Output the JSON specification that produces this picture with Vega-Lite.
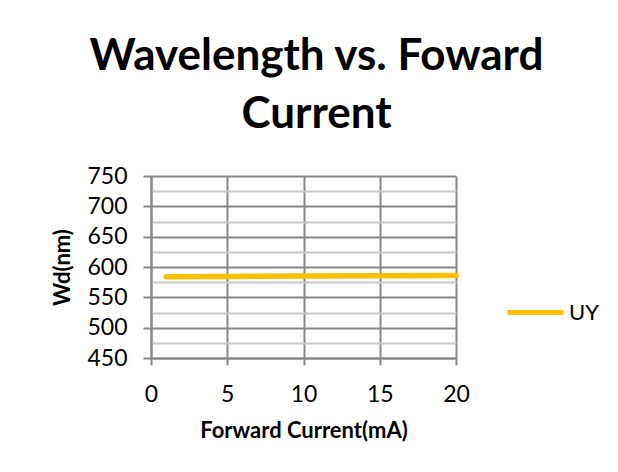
{
  "$schema": "https://vega.github.io/schema/vega-lite/v6.json",
  "width": 305,
  "height": 182,
  "autosize": {"type": "none"},
  "padding": {"left": 151, "top": 176, "right": 162, "bottom": 114},
  "background": "white",
  "config": {"view": {"stroke": null}, "font": "Lato"},
  "title": {
    "text": ["Wavelength vs. Foward", "Current"],
    "font": "Lato",
    "fontSize": 44,
    "fontWeight": "bold",
    "color": "black",
    "lineHeight": 58,
    "anchor": "middle",
    "dx": 13,
    "offset": 28
  },
  "data": {
    "values": [
      {"current": 1, "wd": 584, "series": "UY"},
      {"current": 5, "wd": 584.5, "series": "UY"},
      {"current": 10, "wd": 585, "series": "UY"},
      {"current": 15, "wd": 585.5, "series": "UY"},
      {"current": 20, "wd": 586, "series": "UY"}
    ]
  },
  "mark": {"type": "line", "strokeWidth": 5.5, "strokeCap": "round"},
  "encoding": {
    "x": {
      "field": "current",
      "type": "quantitative",
      "scale": {"domain": [0, 20], "nice": false},
      "axis": {
        "values": [0, 5, 10, 15, 20],
        "grid": true,
        "gridColor": "#888888",
        "gridWidth": 2,
        "domainColor": "#888888",
        "domainWidth": 2,
        "tickColor": "#888888",
        "tickWidth": 2,
        "tickSize": 7,
        "labelFont": "Lato",
        "labelFontSize": 23,
        "labelColor": "black",
        "labelPadding": 18,
        "labelFlush": false,
        "labelOverlap": false,
        "title": "Forward Current(mA)",
        "titleFont": "Lato",
        "titleFontSize": 22,
        "titleFontWeight": "bold",
        "titleColor": "black",
        "titlePadding": 14
      }
    },
    "y": {
      "field": "wd",
      "type": "quantitative",
      "scale": {"domain": [450, 750], "nice": false, "zero": false},
      "axis": {
        "values": [450, 475, 500, 525, 550, 575, 600, 625, 650, 675, 700, 725, 750],
        "grid": true,
        "gridColor": {"condition": {"test": "datum.value % 50 === 0", "value": "#888888"}, "value": "#c8c8c8"},
        "gridWidth": 2,
        "domainColor": "#888888",
        "domainWidth": 2,
        "tickColor": "#888888",
        "tickOpacity": {"condition": {"test": "datum.value % 50 === 0", "value": 1}, "value": 0},
        "tickWidth": 2,
        "tickSize": 8,
        "labelExpr": "datum.value % 50 === 0 ? datum.label : ''",
        "labelFont": "Lato",
        "labelFontSize": 23,
        "labelColor": "black",
        "labelPadding": 16,
        "labelOverlap": false,
        "title": "Wd(nm)",
        "titleFont": "Lato",
        "titleFontSize": 22,
        "titleFontWeight": "bold",
        "titleColor": "black",
        "titlePadding": 12
      }
    },
    "color": {
      "field": "series",
      "type": "nominal",
      "scale": {"range": ["#FFC000"]},
      "legend": {
        "orient": "none",
        "legendX": 354,
        "legendY": 106,
        "title": null,
        "symbolType": "stroke",
        "symbolSize": 3136,
        "symbolStrokeWidth": 5,
        "labelFont": "Lato",
        "labelFontSize": 22,
        "labelColor": "black",
        "labelOffset": 3,
        "padding": 0
      }
    }
  }
}
